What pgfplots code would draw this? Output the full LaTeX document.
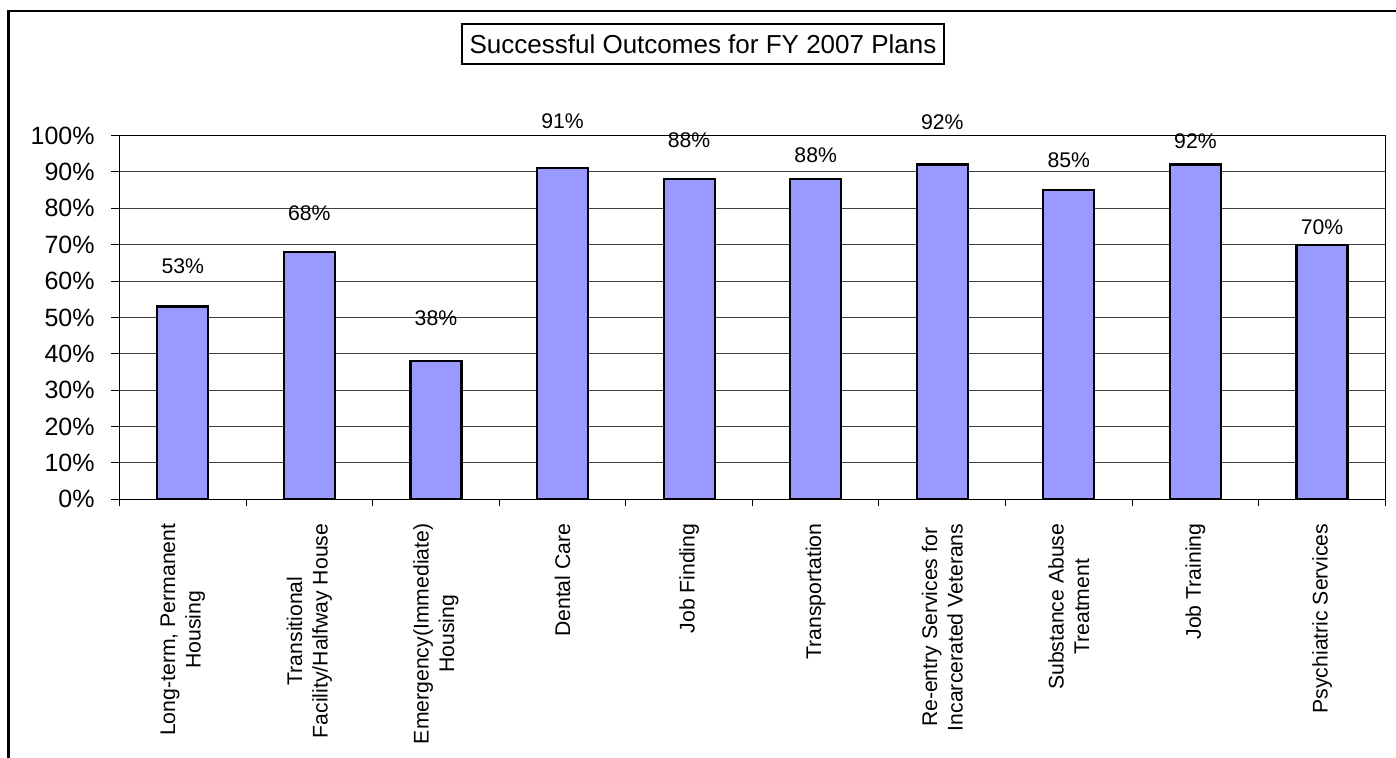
\documentclass[border=0pt]{standalone}
\usepackage{pgfplots}
\pgfplotsset{compat=1.18}
\usepackage{fontspec}
\setmainfont{Liberation Sans}
\definecolor{barblue}{RGB}{153,153,255}
\pgfplotstableread{
x y off
0 53 20.25
1 68 19.55
2 38 21.2
3 91 23.75
4 88 19.45
5 88 12.1
6 92 20.95
7 85 14.7
8 92 11.8
9 70 8.95
}\datatable
\begin{document}
\begin{tikzpicture}
\path[use as bounding box] (-59.75pt,-129.35pt) rectangle (638.25pt,249.65pt);
\draw[line width=1.35pt] (-55.4pt,-140pt) -- (-55.4pt,244.15pt) -- (650pt,244.15pt);
\node[draw, line width=0.9pt, minimum width=241pt, minimum height=20pt, inner sep=0pt,
  font=\fontsize{13}{15.6}\selectfont] at (291.75pt,227.65pt) {Successful Outcomes for FY 2007 Plans};
\begin{axis}[
  at={(0pt,0pt)}, anchor=south west,
  scale only axis, width=632.9pt, height=181.9pt,
  ybar, bar width=25.5pt,
  xmin=-0.5, xmax=9.5, ymin=0, ymax=100,
  xtick={0,...,9},
  xticklabels={{Long-term, Permanent\\Housing},{Transitional\\Facility/Halfway House},{Emergency(Immediate)\\Housing},{Dental Care},{Job Finding},{Transportation},{Re-entry Services for\\Incarcerated Veterans},{Substance Abuse\\Treatment},{Job Training},{Psychiatric Services}},
  minor xtick={-0.5,0.5,...,9.5},
  ytick={0,10,...,100},
  yticklabel={\pgfmathprintnumber{\tick}\%},
  /pgf/number format/assume math mode=true,
  tick align=outside,
  xtick pos=bottom, ytick pos=left,
  major tick length=4pt, minor tick length=3.3pt,
  major x tick style={draw=none},
  tick style={black, line width=0.5pt},
  axis line style={black, line width=0.6pt},
  ymajorgrids, grid style={black!75, line width=0.5pt},
  xticklabel style={rotate=90, anchor=east, align=center, inner sep=0pt,
    font=\fontsize{10.6}{12.8}\selectfont},
  xticklabel shift=8pt,
  yticklabel style={inner sep=0pt, font=\fontsize{12.5}{15}\selectfont},
  yticklabel shift=8.25pt,
  nodes near coords={\pgfmathprintnumber{\pgfplotspointmeta}\%},
  visualization depends on={\thisrow{off} \as \myoff},
  every node near coord/.append style={anchor=center, yshift=\myoff pt, black,
    font=\fontsize{10.6}{12.7}\selectfont},
]
\addplot[fill=barblue, draw=black, line width=1.1pt] table[x=x, y=y] {\datatable};
\end{axis}
\end{tikzpicture}
\end{document}
